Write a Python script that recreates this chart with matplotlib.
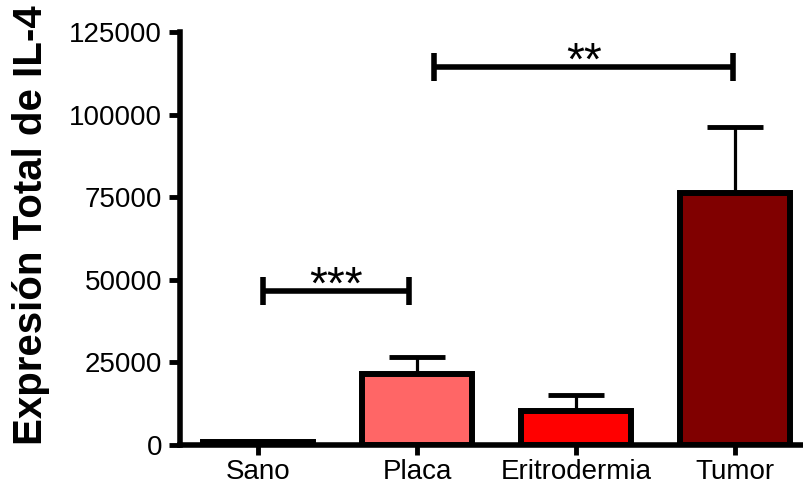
import matplotlib
matplotlib.use("Agg")
import matplotlib.pyplot as plt
import numpy as np

plt.rcParams['font.family'] = ['Liberation Sans', 'DejaVu Sans']

categories = ["Sano", "Placa", "Eritrodermia", "Tumor"]
means = [900, 21500, 10300, 76300]
errors = [300, 5100, 4800, 19900]
colors = ["#FFFFFF", "#FF6666", "#FF0000", "#800000"]
yticks = [0, 25000, 50000, 75000, 100000, 125000]
ylabel = "Expresión Total de IL-4"

# significance brackets: (x_start, x_end, y, label)
sig_brackets = [(0.03, 0.95, 46600, "***"), (1.11, 2.99, 114400, "**")]

fig = plt.figure(figsize=(8.04, 4.93), dpi=100)
ax = fig.add_axes([180/804, 48/493, 1 - 180/804, 413/493])

x = np.arange(len(categories))
ax.errorbar(x, means, yerr=[np.zeros(len(errors)), errors], fmt='none',
            ecolor='black', elinewidth=2.3, capsize=20, capthick=3.5, zorder=2)
ax.bar(x, means, width=0.69, color=colors, edgecolor='black', linewidth=4.3, zorder=3)

cap_h = 4300
for x0, x1, y, lab in sig_brackets:
    ax.plot([x0, x1], [y, y], color='black', lw=4, solid_capstyle='butt', clip_on=False)
    ax.plot([x0, x0], [y - cap_h, y + cap_h], color='black', lw=4, solid_capstyle='butt', clip_on=False)
    ax.plot([x1, x1], [y - cap_h, y + cap_h], color='black', lw=4, solid_capstyle='butt', clip_on=False)
    ax.text((x0 + x1) / 2, y - 2300, lab, ha='center', va='baseline', fontsize=33)

ax.set_xlim(-0.49, 3.434)
ax.set_ylim(0, 125000)
ax.set_yticks(yticks)
ax.set_yticklabels([str(v) for v in yticks])
ax.set_xticks(x)
ax.set_xticklabels(categories)
ax.tick_params(axis='both', labelsize=20, width=3.5, length=7, color='black', pad=3)
ax.tick_params(axis='y', length=8, pad=5)

for s in ['top', 'right']:
    ax.spines[s].set_visible(False)
for s in ['left', 'bottom']:
    ax.spines[s].set_linewidth(4)

ax.set_ylabel(ylabel, fontsize=29, fontweight='bold')
ax.yaxis.set_label_coords(-0.208, 0.533)

fig.savefig("out.png", dpi=100)
